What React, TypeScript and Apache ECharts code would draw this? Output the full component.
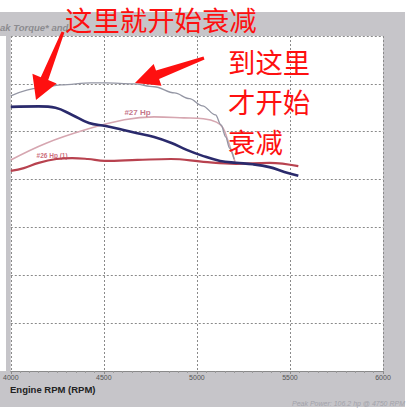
import React, { useEffect, useRef } from "react";
import * as echarts from "echarts";

const rpmPower = [4000, 4150, 4270, 4430, 4510, 4660, 4770, 4880, 4960, 5030, 5100, 5130, 5155, 5175, 5200];
const valPower = [97.5, 99.1, 99.8, 100.2, 100.2, 100.0, 99.4, 98.1, 96.9, 95.4, 93.5, 91.4, 88.9, 86.6, 84.3];

const rpmTorque = [4000, 4150, 4240, 4330, 4420, 4510, 4600, 4680, 4770, 4860, 4945, 5035, 5125, 5210, 5300, 5390, 5470, 5545];
const valTorque = [95.2, 95.3, 95.0, 93.5, 91.8, 91.2, 90.4, 89.7, 88.9, 87.7, 86.2, 84.9, 83.9, 83.5, 83.2, 82.6, 81.6, 80.8];

const rpm27 = [4000, 4190, 4400, 4610, 4770, 4930, 5035, 5105, 5140, 5165, 5205];
const val27 = [84.1, 87.6, 90.4, 92.5, 93.1, 92.9, 92.7, 92.0, 90.8, 88.3, 83.7];

const rpm26 = [4000, 4070, 4150, 4245, 4330, 4415, 4505, 4680, 4860, 5035, 5210, 5390, 5545];
const val26 = [81.8, 82.4, 83.5, 84.3, 84.5, 84.3, 83.9, 84.1, 84.3, 83.7, 83.3, 83.5, 82.8];

const xTicks = { min: 4000, max: 6000, interval: 500 };
const yTicks = { min: 40, max: 110, interval: 10 };

const label27 = { text: "#27 Hp", rpm: 4681, value: 94.1 };
const label26 = { text: "#26 Hp (1)", rpm: 4222, value: 85.1 };

const titleText = "ak Torque* and";
const xAxisTitle = "Engine RPM (RPM)";
const peakText = "Peak Power: 106.2 hp @ 4750 RPM";
const note1 = "这里就开始衰减";
const note2 = ["到这里", "才开始", "衰减"];

function zip(a: number[], b: number[]) {
  return a.map((x, i) => [x, b[i]]);
}

function arrowPts(tx: number, ty: number, hx: number, hy: number, headLen: number, headHalf: number, w0: number, w1: number) {
  const dx = hx - tx, dy = hy - ty;
  const L = Math.sqrt(dx * dx + dy * dy);
  const ux = dx / L, uy = dy / L;
  const nx = -uy, ny = ux;
  const bx = hx - ux * headLen, by = hy - uy * headLen;
  return [
    [tx + nx * w0, ty + ny * w0],
    [bx + nx * w1, by + ny * w1],
    [bx + nx * headHalf, by + ny * headHalf],
    [hx, hy],
    [bx - nx * headHalf, by - ny * headHalf],
    [bx - nx * w1, by - ny * w1],
    [tx - nx * w0, ty - ny * w0],
  ];
}

export default function App() {
  const ref = useRef<HTMLDivElement>(null);
  useEffect(() => {
    const chart = echarts.init(ref.current!, null, { renderer: "svg" });
    const dotted = { color: "#8a8a8a", width: 1, type: [2, 2] as any };
    const cjk = "'Noto Sans CJK SC', sans-serif";
    const labelSeries = (l: { text: string; rpm: number; value: number }, color: string, size: number) => ({
      type: "scatter",
      data: [[l.rpm, l.value]],
      symbolSize: 1,
      itemStyle: { color: "rgba(0,0,0,0)" },
      silent: true,
      z: 5,
      label: {
        show: true,
        position: "inside",
        formatter: l.text,
        fontSize: size,
        fontWeight: "bold",
        color,
        fontFamily: "Liberation Sans",
      },
    });
    chart.setOption({
      animation: false,
      backgroundColor: "#ffffff",
      grid: { left: 5, right: 25, top: 36, bottom: 39, show: true, backgroundColor: "#ffffff", borderWidth: 0 },
      xAxis: {
        type: "value",
        min: xTicks.min,
        max: xTicks.max,
        interval: xTicks.interval,
        axisLine: { show: true, lineStyle: { color: "#8a8a8a", width: 1 } },
        axisTick: { show: true, length: 3, lineStyle: { color: "#8a8a8a" } },
        minorTick: { show: true, splitNumber: 10, length: 2, lineStyle: { color: "#9a9a9a" } },
        axisLabel: {
          fontSize: 7,
          color: "#555",
          margin: 3,
          fontFamily: "Liberation Sans",
          showMinLabel: true,
          showMaxLabel: true,
          alignMinLabel: "center",
          alignMaxLabel: "center",
          formatter: (v: number) => String(v),
        },
        splitLine: { show: true, lineStyle: dotted },
      },
      yAxis: {
        type: "value",
        min: yTicks.min,
        max: yTicks.max,
        interval: yTicks.interval,
        axisLine: { show: false },
        axisTick: { show: false },
        axisLabel: { show: false },
        splitLine: { show: true, lineStyle: dotted },
      },
      series: [
        {
          type: "line",
          data: zip(rpmPower, valPower),
          smooth: 0.35,
          smoothMonotone: "x",
          showSymbol: false,
          lineStyle: { color: "#9496a4", width: 1.3 },
          z: 3,
        },
        {
          type: "line",
          data: zip(rpm27, val27),
          smooth: 0.4,
          showSymbol: false,
          lineStyle: { color: "#d6a6b0", width: 1.6 },
          z: 2,
        },
        {
          type: "line",
          data: zip(rpm26, val26),
          smooth: 0.4,
          showSymbol: false,
          lineStyle: { color: "#b8424f", width: 2.2 },
          z: 2,
        },
        {
          type: "line",
          data: zip(rpmTorque, valTorque),
          smooth: 0.4,
          showSymbol: false,
          lineStyle: { color: "#2a2a6c", width: 2.6 },
          z: 4,
        },
        labelSeries(label27, "#b4506a", 8),
        labelSeries(label26, "#c04858", 6.5),
      ],
      graphic: [
        { type: "rect", z: -10, silent: true, shape: { x: 0, y: 12, width: 405, height: 395 }, style: { fill: "#c6c5c9" } },
        { type: "rect", z: -9, silent: true, shape: { x: 0, y: 36, width: 6, height: 335 }, style: { fill: "#ffffff" } },
        {
          type: "text", x: 0, y: 27, z: 5,
          style: { text: titleText, fontSize: 9.5, fontWeight: "bold", fontStyle: "italic", fill: "#8c8c90", fontFamily: "Liberation Sans", textVerticalAlign: "middle" },
        },
        {
          type: "text", x: 10, y: 389, z: 5,
          style: { text: xAxisTitle, fontSize: 9.5, fontWeight: "bold", fill: "#222", fontFamily: "Liberation Sans", textVerticalAlign: "middle" },
        },
        {
          type: "text", x: 405, y: 403, z: 5,
          style: { text: peakText, fontSize: 7, fontStyle: "italic", fill: "#a2a2aa", fontFamily: "Liberation Sans", textAlign: "right", textVerticalAlign: "middle" },
        },
        {
          type: "polygon", z: 20,
          shape: { points: arrowPts(63, 32, 36, 100, 23, 13, 1.5, 4) },
          style: { fill: "#fe1010" },
        },
        {
          type: "polygon", z: 20,
          shape: { points: arrowPts(204, 58, 135, 83, 24, 11.5, 1.5, 4.5) },
          style: { fill: "#fe1010" },
        },
        {
          type: "text", x: 65, y: 18.5, z: 21,
          style: { text: note1, fontSize: 27.4, fill: "#fe1010", fontFamily: cjk, textVerticalAlign: "middle" },
        },
        ...note2.map((t, i) => ({
          type: "text", x: 228, y: 60.5 + i * 40, z: 21,
          style: { text: t, fontSize: 27.4, fill: "#fe1010", fontFamily: cjk, textVerticalAlign: "middle" },
        })),
      ],
    });
    return () => chart.dispose();
  }, []);
  return <div ref={ref} style={{ position: "fixed", left: 0, top: 0, width: 408, height: 410 }} />;
}
